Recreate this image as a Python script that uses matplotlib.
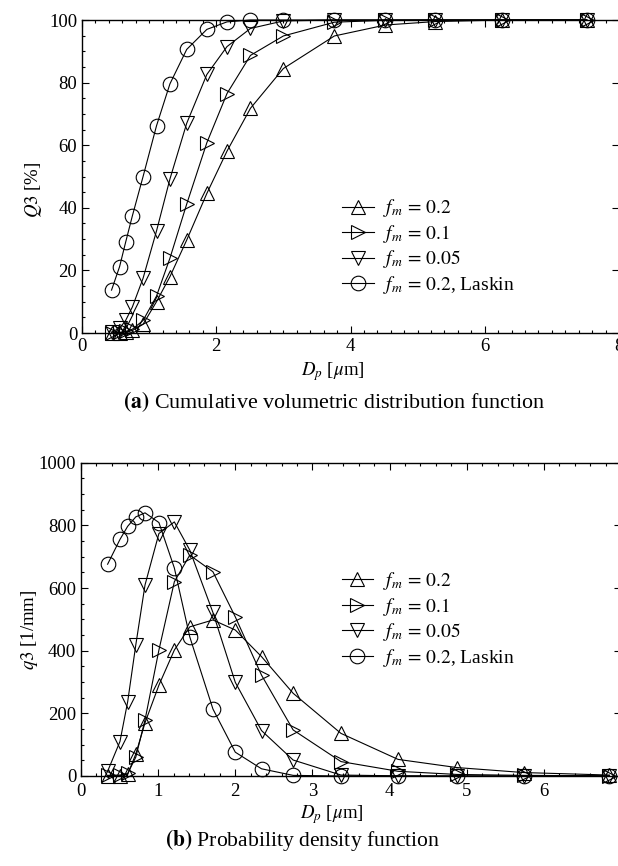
import matplotlib
matplotlib.use("Agg")
import matplotlib.pyplot as plt
from matplotlib.ticker import MultipleLocator

plt.rcParams['font.family'] = ['Liberation Serif', 'DejaVu Serif']
plt.rcParams['mathtext.fontset'] = 'stix'

# ---- data: (a) cumulative distribution Q3 [%] ----
dp_a = [0.44, 0.56, 0.65, 0.75, 0.91, 1.11, 1.31, 1.56, 1.86, 2.16, 2.51, 3.0,
        3.76, 4.52, 5.26, 6.25, 7.52]
q3a_fm02 = [0.0, 0.1, 0.3, 0.8, 2.8, 10.0, 18.0, 29.7, 44.6, 58.1, 71.8, 84.5,
            94.9, 98.4, 99.5, 100, 100]
q3a_fm01 = [0.0, 0.2, 0.5, 1.2, 4.0, 11.8, 23.9, 41.2, 60.8, 76.5, 88.7, 94.9,
            99.3, 99.9, 100, 100, 100]
q3a_fm005 = [0.3, 1.5, 4.0, 8.3, 17.5, 32.6, 49.2, 67.0, 82.6, 91.5, 97.3, 99.7,
             100, 100, 100, 100, 100]
q3a_laskin = [13.7, 21.2, 29.0, 37.4, 50.0, 66.2, 79.6, 90.6, 97.0, 99.4, 100,
              100, 100, 100, 100, 100, 100]

# ---- data: (b) probability density q3 [1/mm] ----
dp_b = [0.345, 0.505, 0.605, 0.71, 0.83, 1.01, 1.21, 1.41, 1.71, 2.0, 2.34,
        2.75, 3.37, 4.11, 4.87, 5.74, 6.85]
q3b_fm02 = [0, 1, 5, 70, 170, 290, 402, 476, 498, 466, 381, 264, 136, 53, 27,
            11, 3]
q3b_fm01 = [2, 3, 8, 60, 179, 402, 620, 705, 652, 508, 322, 147, 46, 15, 5, 2,
            0.5]
q3b_fm005 = [15, 110, 237, 418, 610, 774, 811, 721, 522, 299, 145, 51, 3, 0.5,
             0, 0, 0]
q3b_laskin = [676, 755, 797, 827, 840, 809, 664, 444, 214, 76, 23, 2, 0, 0, 0,
              0, 0]

labels = [r"$f_m\,=\,0.2$", r"$f_m\,=\,0.1$", r"$f_m\,=\,0.05$",
          r"$f_m\,=\,0.2$, Laskin"]
markers = ['^', '>', 'v', 'o']

W, H = 618, 866
fig = plt.figure(figsize=(W / 100, H / 100), dpi=100)


def px_axes(l, r, t, b):
    return fig.add_axes([l / W, 1 - b / H, (r - l) / W, (b - t) / H])


def ftext(x, y, s, **kw):
    fig.text(x / W, 1 - y / H, s, ha='center', va='center', **kw)


def style(ax, xmaj, xmin, ymaj, ymin):
    ax.xaxis.set_major_locator(MultipleLocator(xmaj))
    ax.xaxis.set_minor_locator(MultipleLocator(xmin))
    ax.yaxis.set_major_locator(MultipleLocator(ymaj))
    ax.yaxis.set_minor_locator(MultipleLocator(ymin))
    ax.tick_params(which='both', direction='in', top=True, right=True,
                   labelsize=13.5, width=0.8)
    ax.tick_params(which='major', length=5)
    ax.tick_params(which='minor', length=2.5)
    ax.tick_params(axis='y', which='minor', right=False)
    for s in ax.spines.values():
        s.set_linewidth(1.0)


def draw(ax, x, series):
    for ys, m, lab in zip(series, markers, labels):
        ax.plot(x, ys, marker=m, ms=10.5, mfc='none', mec='black', mew=0.8,
                color='black', lw=0.8, label=lab, clip_on=False)


def legend(ax, x, y):
    ax.legend(loc='center left', bbox_to_anchor=(x, y), frameon=False,
              fontsize=14, handlelength=1.6, handletextpad=0.5,
              labelspacing=0.18, borderpad=0, borderaxespad=0)


# (a)
ax1 = px_axes(82, 619, 20, 333)
draw(ax1, dp_a, [q3a_fm02, q3a_fm01, q3a_fm005, q3a_laskin])
ax1.set_xlim(0, 8)
ax1.set_ylim(0, 100)
style(ax1, 2, 0.2, 20, 5)
legend(ax1, 0.485, 0.276)
ftext(33, 190, r"$Q3$ [%]", fontsize=13.5, rotation=90)
ftext(333, 372, r"$D_p$ [$\mu$m]", fontsize=13.5)
ftext(334, 402, r"$\mathbf{(a)}$ Cumulative volumetric distribution function",
      fontsize=15.8)

# (b)
ax2 = px_axes(81, 621, 462.7, 776)
draw(ax2, dp_b, [q3b_fm02, q3b_fm01, q3b_fm005, q3b_laskin])
ax2.set_xlim(0, 7)
ax2.set_ylim(0, 1000)
style(ax2, 1, 0.2, 200, 50)
ax2.tick_params(axis='x', which='major', pad=5)
legend(ax2, 0.483, 0.4995)
ftext(30, 630, r"$q3$ [1/mm]", fontsize=13.5, rotation=90)
ftext(332, 815, r"$D_p$ [$\mu$m]", fontsize=13.5)
ftext(303, 840, r"$\mathbf{(b)}$ Probability density function",
      fontsize=15.6)

fig.savefig("out.png", dpi=100)
